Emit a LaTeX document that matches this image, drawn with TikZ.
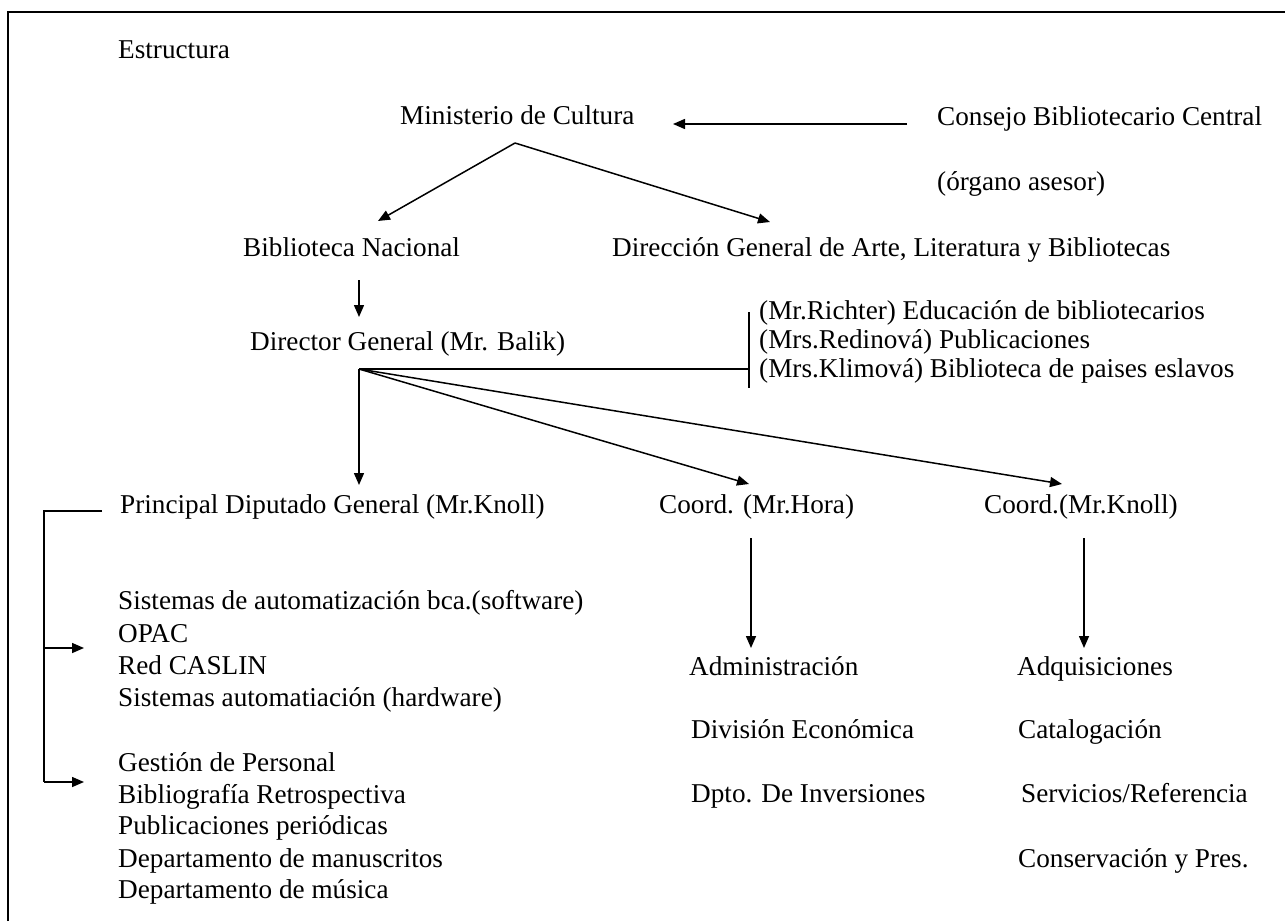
\documentclass[tikz,border=0pt]{standalone}
\usepackage{fontspec}
\setmainfont{Liberation Serif}
\usetikzlibrary{arrows.meta}
\tikzset{
  lbl/.style={anchor=base west, inner sep=0pt, font=\fontsize{27.2}{32}\selectfont},
  conn/.style={line width=1.5pt},
  arr/.style={line width=1.5pt, -{Triangle[length=12pt,width=10pt]}},
  frame/.style={line width=1.5pt}
}
\begin{document}
\begin{tikzpicture}[x=1pt,y=-1pt]
\useasboundingbox (0,0) rectangle (1285,921);
% frame
\coordinate (fb) at (8,921);
\coordinate (ftl) at (8,12);
\coordinate (ftr) at (1285,12);
\draw[frame] (fb) -- (ftl) -- (ftr);

% texts
\node[lbl] (est) at (118,58) {Estructura};
\node[lbl] (min) at (400,124) {Ministerio de Cultura};
\node[lbl] (cons) at (937,125) {Consejo Bibliotecario Central};
\node[lbl] (org) at (937,190) {(órgano asesor)};
\node[lbl] (bn) at (243,256) {Biblioteca Nacional};
\node[lbl] (dga) at (612,256) {Dirección General de Arte, Literatura y Bibliotecas};
\node[lbl] (dg) at (250,350) {Director General (Mr. Balik)};
\node[lbl] (r1) at (759,319) {(Mr.Richter) Educación de bibliotecarios};
\node[lbl] (r2) at (759,348) {(Mrs.Redinová) Publicaciones};
\node[lbl] (r3) at (759,377) {(Mrs.Klimová) Biblioteca de paises eslavos};
\node[lbl] (pdg) at (120,513) {Principal Diputado General (Mr.Knoll)};
\node[lbl] (hora) at (659,513) {Coord. (Mr.Hora)};
\node[lbl] (knoll) at (984,513) {Coord.(Mr.Knoll)};

\node[lbl] (l1) at (118,609) {Sistemas de automatización bca.(software)};
\node[lbl] (l2) at (118,642) {OPAC};
\node[lbl] (l3) at (118,674) {Red CASLIN};
\node[lbl] (l4) at (118,706) {Sistemas automatiación (hardware)};
\node[lbl] (l5) at (118,771) {Gestión de Personal};
\node[lbl] (l6) at (118,803) {Bibliografía Retrospectiva};
\node[lbl] (l7) at (118,834) {Publicaciones periódicas};
\node[lbl] (l8) at (118,867) {Departamento de manuscritos};
\node[lbl] (l9) at (118,898) {Departamento de música};

\node[lbl] (adm) at (689,675) {Administración};
\node[lbl] (div) at (691,738) {División Económica};
\node[lbl] (dpto) at (691,802) {Dpto. De Inversiones};
\node[lbl] (adq) at (1017,675) {Adquisiciones};
\node[lbl] (cat) at (1018,738) {Catalogación};
\node[lbl] (serv) at (1021,802) {Servicios/Referencia};
\node[lbl] (cons2) at (1018,867) {Conservación y Pres.};

% connector points
\coordinate (consL) at (907,124);
\coordinate (minR) at (673,124);
\coordinate (apex) at (515,143);
\coordinate (bnT) at (378,221);
\coordinate (dgaT) at (770,222);
\coordinate (bnB) at (359,280);
\coordinate (dgT) at (359,317);
\coordinate (hub) at (359,369);
\coordinate (barM) at (749,369);
\coordinate (barT) at (749,312);
\coordinate (barB) at (749,388);
\coordinate (pdgT) at (359,485);
\coordinate (horaT) at (749,484);
\coordinate (knollT) at (1062,484);
\coordinate (horaB) at (751,538);
\coordinate (admT) at (751,648);
\coordinate (knollB) at (1084,538);
\coordinate (adqT) at (1084,648);
\coordinate (brS) at (102,511);
\coordinate (brC) at (44,511);
\coordinate (brM) at (44,648);
\coordinate (brE) at (44,782);
\coordinate (g1) at (84,648);
\coordinate (g2) at (84,782);

% connectors
\draw[arr] (consL) -- (minR);
\draw[arr] (apex) -- (bnT);
\draw[arr] (apex) -- (dgaT);
\draw[arr] (bnB) -- (dgT);
\draw[conn] (hub) -- (barM);
\draw[conn] (barT) -- (barB);
\draw[arr] (hub) -- (pdgT);
\draw[arr] (hub) -- (horaT);
\draw[arr] (hub) -- (knollT);
\draw[arr] (horaB) -- (admT);
\draw[arr] (knollB) -- (adqT);
\draw[conn] (brS) -- (brC) -- (brE);
\draw[arr] (brM) -- (g1);
\draw[arr] (brE) -- (g2);
\end{tikzpicture}
\end{document}
